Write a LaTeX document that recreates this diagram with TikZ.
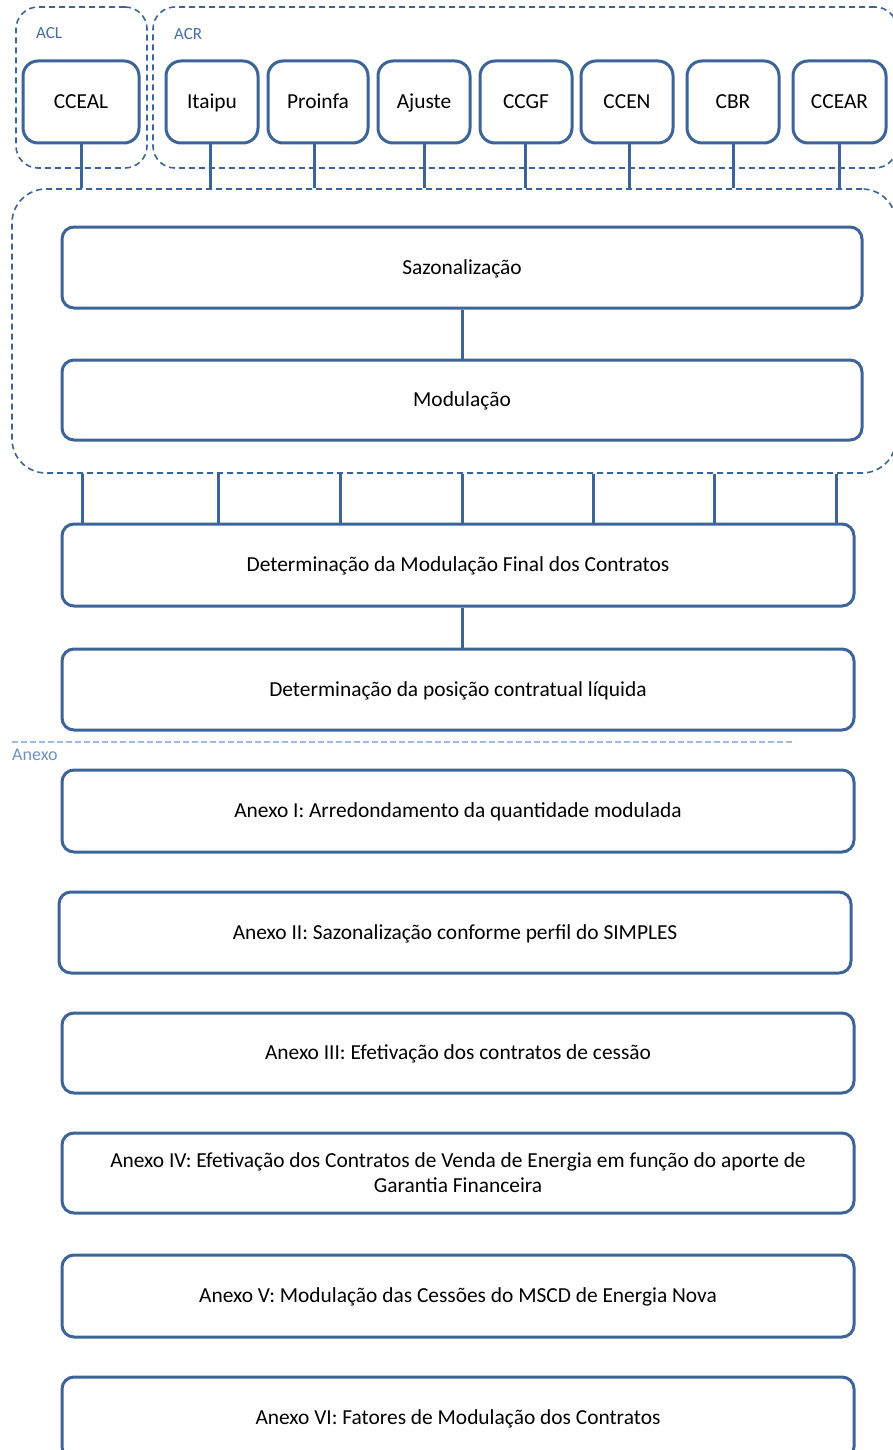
\documentclass[tikz,border=0pt]{standalone}
\usepackage{fontspec}
\setmainfont{Carlito}
\definecolor{lineblue}{RGB}{60,100,152}
\definecolor{labelblue}{RGB}{70,110,160}
\definecolor{anexoline}{RGB}{160,187,218}
\definecolor{anexotext}{RGB}{110,145,192}
\begin{document}
\begin{tikzpicture}[x=1pt,y=-1pt,
  box/.style={draw=lineblue, line width=3pt, rounded corners=12pt, fill=white, align=center,
    font=\fontsize{21.4}{25}\selectfont, inner sep=0pt, text=black, text height=14pt, text depth=1pt},
  sbox/.style={box, rounded corners=15pt, minimum height=82pt},
  wbox/.style={box, minimum width=792pt, minimum height=81pt},
  grpbox/.style={draw=lineblue, line width=1.6pt, dash pattern=on 6pt off 4pt, inner sep=0pt},
  conn/.style={draw=lineblue, line width=3pt},
  grplabel/.style={text=labelblue, font=\fontsize{17}{20}\selectfont, inner sep=0pt, anchor=west}
]
\useasboundingbox (0,0) rectangle (893,1450);
\clip (0,0) rectangle (893,1450);

% group frames
\node[grpbox, rounded corners=22pt, minimum width=131pt, minimum height=161pt] (acl) at (81.5,87.5) {};
\node[grpbox, rounded corners=22pt, minimum width=744pt, minimum height=161pt] (acr) at (525,87.5) {};
\node[grpbox, rounded corners=34pt, minimum width=884pt, minimum height=284pt] (grp) at (454,331) {};
\node[grplabel] (acllbl) at (36,33) {ACL};
\node[grplabel] (acrlbl) at (174,34) {ACR};

% top boxes
\node[sbox, minimum width=116pt] (cceal) at (81,102) {CCEAL};
\node[sbox, minimum width=92pt] (itaipu) at (212,102) {Itaipu};
\node[sbox, minimum width=100pt] (proinfa) at (318,102) {Proinfa};
\node[sbox, minimum width=92pt] (ajuste) at (424,102) {Ajuste};
\node[sbox, minimum width=92pt] (ccgf) at (526,102) {CCGF};
\node[sbox, minimum width=92pt] (ccen) at (627,102) {CCEN};
\node[sbox, minimum width=92pt] (cbr) at (733,102) {CBR};
\node[sbox, minimum width=93pt] (ccear) at (839.5,102) {CCEAR};

% connectors top boxes -> group
\draw[conn] (81,0 |- cceal.south) -- (81,0 |- grp.north);
\draw[conn] (210,0 |- itaipu.south) -- (210,0 |- grp.north);
\draw[conn] (314,0 |- proinfa.south) -- (314,0 |- grp.north);
\draw[conn] (424,0 |- ajuste.south) -- (424,0 |- grp.north);
\draw[conn] (525,0 |- ccgf.south) -- (525,0 |- grp.north);
\draw[conn] (629,0 |- ccen.south) -- (629,0 |- grp.north);
\draw[conn] (733,0 |- cbr.south) -- (733,0 |- grp.north);
\draw[conn] (839,0 |- ccear.south) -- (839,0 |- grp.north);

% inner boxes
\node[box, minimum width=800pt, minimum height=81pt] (saz) at (462,267.5) {Sazonalização};
\node[box, minimum width=800pt, minimum height=80pt] (mod) at (462,400) {Modulação};
\draw[conn] (saz.south) -- (mod.north);

% determinação
\node[wbox, minimum height=82pt] (det) at (458,565) {Determinação da Modulação Final dos Contratos};
\node[wbox] (pos) at (458,689.5) {Determinação da posição contratual líquida};
\draw[conn] (462,0 |- det.south) -- (462,0 |- pos.north);
\foreach \xx in {82,218,340,462,593,714,836}{
  \draw[conn] (\xx,0 |- grp.south) -- (\xx,0 |- det.north);
}

% anexo separator
\coordinate (sepL) at (12,742);
\coordinate (sepR) at (795,742);
\draw[draw=anexoline, line width=2pt, dash pattern=on 6pt off 3pt] (sepL) -- (sepR);
\node[text=anexotext, font=\fontsize{18}{20}\selectfont, inner sep=0pt, anchor=west] (anexolbl) at (12,755) {Anexo};

% anexo boxes
\node[wbox, minimum height=82pt] (a1) at (458,811) {Anexo I: Arredondamento da quantidade modulada};
\node[wbox] (a2) at (455,932.5) {Anexo II: Sazonalização conforme perfil do SIMPLES};
\node[wbox, minimum height=80pt] (a3) at (458,1053) {Anexo III: Efetivação dos contratos de cessão};
\node[wbox, minimum height=80pt, text height={}, text depth={}] (a4) at (458,1173) {Anexo IV: Efetivação dos Contratos de Venda de Energia em função do aporte de\\Garantia Financeira};
\node[wbox, minimum height=82pt] (a5) at (458,1296) {Anexo V: Modulação das Cessões do MSCD de Energia Nova};
\node[wbox, minimum height=82pt] (a6) at (458,1418) {Anexo VI: Fatores de Modulação dos Contratos};
\end{tikzpicture}
\end{document}
